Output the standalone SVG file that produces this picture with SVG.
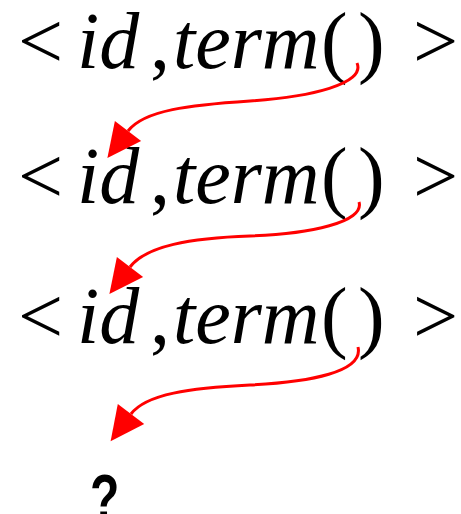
<svg xmlns="http://www.w3.org/2000/svg" width="461" height="514" viewBox="0 0 461 514">
<style>
.t{font-family:"Liberation Serif","Times New Roman",serif;font-size:80px;fill:#000}
.i{font-style:italic}
.c{fill:none;stroke:#ff0000;stroke-width:3}
.q{font-family:"Liberation Sans",Arial,sans-serif;font-weight:bold;font-size:64px;fill:#000}
</style>
<defs>
<marker id="ah" markerUnits="userSpaceOnUse" markerWidth="36" markerHeight="36" refX="0" refY="16.5" orient="auto" overflow="visible">
<path d="M0,0 L34,16.5 L0,33 z" fill="#ff0000"/>
</marker>
</defs>
<rect width="461" height="514" fill="#fff"/>
<g id="line1">
<text class="t" y="68"><tspan x="18">&lt;</tspan><tspan x="77" class="i">id</tspan><tspan x="150">,</tspan><tspan x="173" class="i">term</tspan><tspan x="321">(</tspan><tspan x="358">)</tspan><tspan x="413">&gt;</tspan></text>
</g>
<g id="line2">
<text class="t" y="203"><tspan x="18">&lt;</tspan><tspan x="77" class="i">id</tspan><tspan x="150">,</tspan><tspan x="173" class="i">term</tspan><tspan x="321">(</tspan><tspan x="358">)</tspan><tspan x="413">&gt;</tspan></text>
</g>
<g id="line3">
<text class="t" y="343"><tspan x="18">&lt;</tspan><tspan x="77" class="i">id</tspan><tspan x="150">,</tspan><tspan x="173" class="i">term</tspan><tspan x="321">(</tspan><tspan x="358">)</tspan><tspan x="413">&gt;</tspan></text>
</g>
<g id="unknown">
<text class="q" transform="translate(90,520) scale(0.75,1)" x="0" y="0">?</text>
</g>
<g id="connectors">
<path class="c" marker-end="url(#ah)" d="M357,63 C366,84 310,97 250,101 C190,105 144,110 128,131"/>
<path class="c" marker-end="url(#ah)" d="M359,202 C365,222 310,234 250,236 C190,238 146,246 130,267"/>
<path class="c" marker-end="url(#ah)" d="M358,347 C364,372 310,382 250,385 C190,388 146,394 131,414"/>
</g>
</svg>
